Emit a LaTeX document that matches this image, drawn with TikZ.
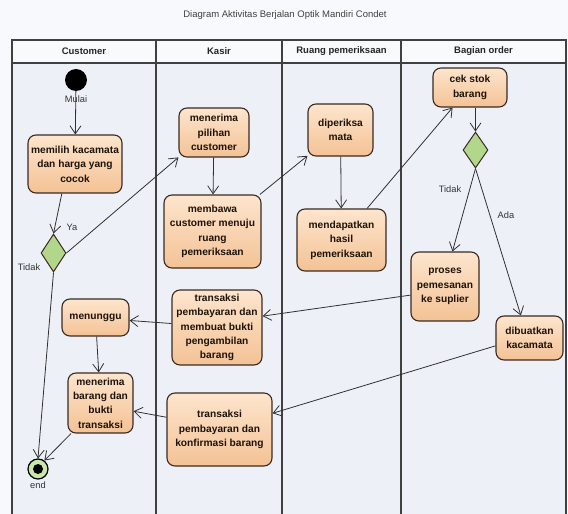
\documentclass[tikz,border=0pt]{standalone}
\usepackage{fontspec}
\setmainfont{Liberation Sans}
\usetikzlibrary{positioning}
\usetikzlibrary{shapes.geometric}
\usetikzlibrary{arrows.meta}
\definecolor{pagefill}{HTML}{F8F9FC}
\definecolor{boxtop}{HTML}{FDE5CD}
\definecolor{boxbot}{HTML}{F4C295}
\definecolor{boxline}{HTML}{3A2A22}
\definecolor{lanefill}{HTML}{EDF1F7}
\definecolor{headfill}{HTML}{F9FAFB}
\definecolor{laneline}{HTML}{404040}
\definecolor{decfill}{HTML}{B3D78A}
\definecolor{endfill}{HTML}{C9E7A6}
\definecolor{flowline}{HTML}{303030}
\newcommand{\actfont}{\fontsize{10.2}{14.4}\selectfont\bfseries}
\newcommand{\lblfont}{\fontsize{9.3}{11}\selectfont}
\tikzstyle{actnode} = [draw=boxline, line width=1.1pt, rounded corners=8pt, top color=boxtop, bottom color=boxbot, text=black!85!brown, font=\actfont, align=center, inner sep=1pt]
\tikzstyle{decnode} = [draw=boxline, line width=1pt, diamond, fill=decfill, inner sep=0pt]
\tikzstyle{lanehead} = [font=\fontsize{9.5}{11}\selectfont\bfseries, text=black!85]
\tikzstyle{lbl} = [font=\lblfont, text=black!80, inner sep=1pt]
\tikzstyle{flow} = [->, draw=flowline, line width=0.8pt]

\begin{document}
\begin{tikzpicture}[x=1pt, y=-1pt, >={Straight Barb[length=8pt,width=11pt]}]
  \useasboundingbox (0,0) rectangle (568,514);
  \fill[pagefill] (0,0) rectangle (568,514);

  \node[font=\fontsize{9.5}{11}\selectfont, text=black!75] (title) at (285,15) {Diagram Aktivitas Berjalan Optik Mandiri Condet};

  % swimlanes
  \fill[lanefill] (12,63) rectangle (566,514);
  \fill[headfill] (12,40) rectangle (566,63);
  \draw[laneline, line width=1.2pt] (12,514) -- (12,40) -- (566,40) -- (566,514);
  \draw[laneline, line width=1.2pt] (12,63) -- (566,63);
  \draw[laneline, line width=1.2pt] (156,40) -- (156,514);
  \draw[laneline, line width=1.2pt] (282,40) -- (282,514);
  \draw[laneline, line width=1.2pt] (401,40) -- (401,514);
  \node[lanehead] (hcust) at (84,51.5) {Customer};
  \node[lanehead] (hkasir) at (219,51.5) {Kasir};
  \node[lanehead] (hruang) at (341.5,51.5) {Ruang pemeriksaan};
  \node[lanehead] (horder) at (483.5,51.5) {Bagian order};

  % customer
  \node[circle, fill=black, minimum size=22pt, inner sep=0pt] (start) at (76,80) {};
  \node[actnode, minimum width=94pt, minimum height=58pt] (pilih) at (75,164) {memilih kacamata\\dan harga yang\\cocok};
  \node[decnode, minimum width=25pt, minimum height=38pt] (dec1) at (53.5,253) {};
  \node[actnode, minimum width=67pt, minimum height=37pt] (tunggu) at (95.5,317.5) {menunggu};
  \node[actnode, minimum width=65pt, minimum height=60pt] (barang) at (100.5,403) {menerima\\barang dan\\bukti\\transaksi};
  \node[circle, draw=black, line width=1.2pt, fill=endfill, minimum size=20pt, inner sep=0pt] (stop) at (38,469) {};
  \fill[black] (stop) circle (5pt);

  % kasir
  \node[actnode, minimum width=70pt, minimum height=49pt] (terima) at (214,132.5) {menerima\\pilihan\\customer};
  \node[actnode, minimum width=97pt, minimum height=73pt] (bawa) at (212.5,231.5) {membawa\\customer menuju\\ruang\\pemeriksaan};
  \node[actnode, minimum width=90pt, minimum height=75pt] (bukti) at (217,327.5) {transaksi\\pembayaran dan\\membuat bukti\\pengambilan\\barang};
  \node[actnode, minimum width=105pt, minimum height=73pt] (konf) at (219.5,429.5) {transaksi\\pembayaran dan\\konfirmasi barang};

  % ruang pemeriksaan
  \node[actnode, minimum width=65pt, minimum height=52pt] (periksa) at (340.5,130) {diperiksa\\mata};
  \node[actnode, minimum width=89pt, minimum height=62pt] (hasil) at (341.5,240) {mendapatkan\\hasil\\pemeriksaan};

  % bagian order
  \node[actnode, minimum width=74pt, minimum height=39pt] (cek) at (470,87.5) {cek stok\\barang};
  \node[decnode, minimum width=25pt, minimum height=36pt] (dec2) at (475.5,150) {};
  \node[actnode, minimum width=68pt, minimum height=69pt] (pesan) at (445,286.5) {proses\\pemesanan\\ke suplier};
  \node[actnode, minimum width=67pt, minimum height=44pt] (buat) at (529.5,338) {dibuatkan\\kacamata};

  \draw[flow] (start) -- (pilih);
  \draw[flow] (pilih.246) -- (dec1.north);
  \draw[flow] (dec1.east) -- (terima.215);
  \draw[flow] (dec1.south) -- (stop.north);
  \draw[flow] (terima) -- (bawa);
  \draw[flow] (bawa.38) -- (periksa.218);
  \draw[flow] (periksa) -- (hasil);
  \draw[flow] (hasil.51) -- (cek.229);
  \draw[flow] (dec2 |- cek.south) -- (dec2.north);
  \draw[flow] (dec2.south) -- (pesan.78);
  \draw[flow] (dec2.south) -- (buat.111);
  \draw[flow] (pesan.194) -- (bukti.14);
  \draw[flow] (buat.193) -- (konf.17);
  \draw[flow] (bukti.175) -- (tunggu.355);
  \draw[flow] (tunggu) -- (barang);
  \draw[flow] (konf.167) -- (barang.346);
  \draw[flow] (barang.226) -- (stop.53);

  \node[lbl, below=3pt of start] (mulai) {Mulai};
  \node[lbl, below=1pt of stop] (endlbl) {end};
  \node[lbl] (ya) at (72,227) {Ya};
  \node[lbl] (tidak1) at (29,267) {Tidak};
  \node[lbl] (tidak2) at (450,189) {Tidak};
  \node[lbl] (ada) at (506,215) {Ada};
\end{tikzpicture}
\end{document}
